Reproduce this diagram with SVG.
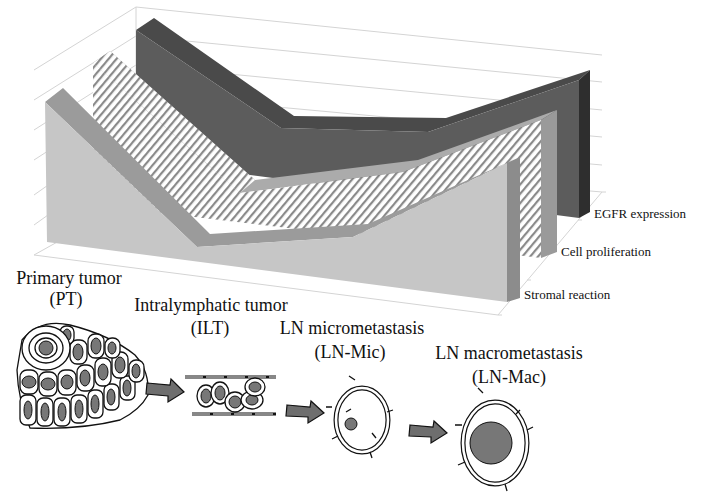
<svg xmlns="http://www.w3.org/2000/svg" width="709" height="493" viewBox="0 0 709 493">
<defs>
<pattern id="hatch" patternUnits="userSpaceOnUse" width="6" height="6" patternTransform="rotate(40)">
<rect width="6" height="6" fill="#fff"/><rect width="2.2" height="6" fill="#8a8a8a"/>
</pattern>
<style>
.grid{stroke:#d4d4d4;stroke-width:1;fill:none}
.lbl{font-family:"Liberation Serif",serif;font-size:13px;fill:#111}
.big{font-family:"Liberation Serif",serif;font-size:18px;fill:#111;text-anchor:middle}
.cell{fill:#fff;stroke:#111;stroke-width:1.3}
.nuc{fill:#777;stroke:#111;stroke-width:1}
.arrow{fill:#6e6e6e;stroke:#111;stroke-width:1.2}
.ringo{fill:none;stroke:#111;stroke-width:5}
.ringi{fill:none;stroke:#fff;stroke-width:2.6}
.spk{fill:none;stroke:#111;stroke-width:1.3}
</style>
</defs>
<g id="grid">
<path class="grid" d="M136 7 L602 55 M136 36 L602 82 M136 65 L602 110 M136 94 L602 137 M136 123 L602 165 M136 152 L602 192"/>
<path class="grid" d="M136 7 L136 198 M136 7 L34 70 M136 36 L34 100 M136 65 L34 130 M136 94 L34 160 M136 123 L34 195 M136 152 L34 225 M136 198 L34 255"/>
<path class="grid" d="M34 255 L498 315 L602 192"/>
<path class="grid" d="M498 315 l4 0 M527 280 l4 0 M550 250 l4 0 M578 220 l4 0 M602 192 l4 0"/>
</g>
<g id="egfr">
<polygon points="136,30 154,18 294,116 446,118 590,70 579,80 428,132 281,128" fill="#4a4a4a"/>
<polygon points="136,30 281,128 428,132 579,80 579,218 136,160" fill="#5c5c5c"/>
<polygon points="579,80 590,70 590,212 579,218" fill="#2e2e2e"/>
</g>
<g id="proliferation">
<polygon points="93,63 110,51 255,180 418,160 557,110 541,120 403,172 240,193" fill="#ababab"/>
<polygon points="93,63 110,51 255,180 240,193" fill="url(#hatch)"/>
<polygon points="93,63 240,193 403,172 541,120 541,258 93,205" fill="url(#hatch)"/>
<polygon points="541,120 557,110 557,252 541,258" fill="#9a9a9a"/>
</g>
<g id="stromal">
<polygon points="45,102 63,88 210,234 368,224 520,157 507,163 353,237 197,247" fill="#9b9b9b"/>
<polygon points="45,102 197,247 353,237 507,163 507,302 47,242" fill="#c6c6c6"/>
<polygon points="507,163 520,157 520,298 507,302" fill="#8c8c8c"/>
</g>
<g id="labels">
<text class="lbl" x="594" y="218">EGFR expression</text>
<text class="lbl" x="561" y="256">Cell proliferation</text>
<text class="lbl" x="524" y="299">Stromal reaction</text>
<text class="big" x="69" y="284">Primary tumor</text>
<text class="big" x="66" y="305">(PT)</text>
<text class="big" x="211" y="311">Intralymphatic tumor</text>
<text class="big" x="210" y="334">(ILT)</text>
<text class="big" x="352" y="334">LN micrometastasis</text>
<text class="big" x="350" y="358">(LN-Mic)</text>
<text class="big" x="509" y="359">LN macrometastasis</text>
<text class="big" x="509" y="383">(LN-Mac)</text>
</g>
<g id="pt">
<path class="cell" d="M22 340 Q40 318 70 325 Q110 335 135 355 Q150 372 148 395 Q140 410 120 420 Q80 430 30 428 Q18 400 17 370 Z"/>
<g>
<rect class="cell" x="20" y="395" width="16" height="30" rx="6"/><ellipse class="nuc" cx="28" cy="410" rx="4" ry="9"/>
<rect class="cell" x="37" y="398" width="16" height="28" rx="6"/><ellipse class="nuc" cx="45" cy="412" rx="4" ry="9"/>
<rect class="cell" x="54" y="398" width="16" height="28" rx="6"/><ellipse class="nuc" cx="62" cy="412" rx="4" ry="9"/>
<rect class="cell" x="71" y="395" width="16" height="28" rx="6"/><ellipse class="nuc" cx="79" cy="409" rx="4" ry="9"/>
<rect class="cell" x="88" y="390" width="15" height="28" rx="6"/><ellipse class="nuc" cx="95" cy="404" rx="4" ry="9"/>
<rect class="cell" x="104" y="384" width="15" height="26" rx="6"/><ellipse class="nuc" cx="111" cy="397" rx="4" ry="8"/>
<rect class="cell" x="120" y="376" width="15" height="24" rx="6"/><ellipse class="nuc" cx="127" cy="388" rx="4" ry="8"/>
<rect class="cell" x="20" y="370" width="18" height="24" rx="7"/><ellipse class="nuc" cx="29" cy="382" rx="7" ry="6"/>
<rect class="cell" x="39" y="372" width="18" height="24" rx="7"/><ellipse class="nuc" cx="48" cy="384" rx="7" ry="6"/>
<rect class="cell" x="58" y="370" width="18" height="25" rx="7"/><ellipse class="nuc" cx="67" cy="382" rx="6" ry="7"/>
<rect class="cell" x="77" y="365" width="17" height="26" rx="7"/><ellipse class="nuc" cx="85" cy="378" rx="5" ry="8"/>
<rect class="cell" x="95" y="358" width="16" height="28" rx="7"/><ellipse class="nuc" cx="103" cy="372" rx="5" ry="8"/>
<rect class="cell" x="112" y="352" width="16" height="26" rx="7"/><ellipse class="nuc" cx="120" cy="365" rx="5" ry="8"/>
<rect class="cell" x="129" y="360" width="15" height="22" rx="7"/><ellipse class="nuc" cx="136" cy="371" rx="4" ry="7"/>
<rect class="cell" x="70" y="340" width="17" height="24" rx="7"/><ellipse class="nuc" cx="78" cy="352" rx="5" ry="8"/>
<rect class="cell" x="88" y="334" width="16" height="24" rx="7"/><ellipse class="nuc" cx="96" cy="346" rx="5" ry="8"/>
<rect class="cell" x="105" y="338" width="15" height="20" rx="7"/><ellipse class="nuc" cx="112" cy="348" rx="4" ry="6"/>
<rect class="cell" x="60" y="326" width="14" height="18" rx="6"/><ellipse class="nuc" cx="67" cy="335" rx="4" ry="6"/>
</g>
<ellipse class="cell" cx="46" cy="348" rx="24" ry="22"/>
<ellipse class="cell" cx="46" cy="348" rx="17" ry="15"/>
<ellipse class="cell" cx="46" cy="348" rx="11" ry="10"/>
<circle class="nuc" cx="46" cy="348" r="7" fill="#999"/>
</g>
<g id="arrows">
<polygon class="arrow" points="147,383 170,385 171,379 184,392 168,402 168,396 146,394"/>
<polygon class="arrow" points="287,405 310,407 311,401 324,413 308,423 308,417 286,416"/>
<polygon class="arrow" points="410,425 433,427 434,421 447,433 431,443 431,437 409,436"/>
</g>
<g id="ilt">
<path d="M185 377 L276 377 M192 414 L276 414" stroke="#111" stroke-width="3"/>
<path d="M185 377 L276 377 M192 414 L276 414" stroke="#fff" stroke-width="1" stroke-dasharray="18 3"/>
<ellipse class="cell" cx="206" cy="396" rx="9" ry="11"/><ellipse class="nuc" cx="206" cy="396" rx="5" ry="7"/>
<ellipse class="cell" cx="220" cy="393" rx="9" ry="11"/><ellipse class="nuc" cx="220" cy="393" rx="5" ry="7"/>
<ellipse class="cell" cx="235" cy="402" rx="10" ry="10"/><ellipse class="nuc" cx="235" cy="402" rx="6" ry="6"/>
<ellipse class="cell" cx="252" cy="400" rx="11" ry="9"/><ellipse class="nuc" cx="252" cy="400" rx="6" ry="5"/>
<ellipse class="cell" cx="255" cy="387" rx="10" ry="9"/><ellipse class="nuc" cx="255" cy="387" rx="6" ry="5"/>
</g>
<g id="lnmic">
<ellipse class="ringo" cx="362" cy="420" rx="26" ry="32"/>
<ellipse class="ringi" cx="362" cy="420" rx="26" ry="32"/>
<circle class="nuc" cx="351" cy="424" r="6"/>
<path class="spk" d="M355 380 l-6 -4 M387 412 l6 -2 M332 407 l-6 0 M338 436 l-6 3 M370 452 l2 6 M346 412 l5 -3 M376 438 l-4 -5"/>
</g>
<g id="lnmac">
<ellipse class="ringo" cx="495" cy="443" rx="32" ry="41"/>
<ellipse class="ringi" cx="495" cy="443" rx="32" ry="41"/>
<circle cx="491" cy="443" r="21" fill="#777" stroke="#111" stroke-width="1"/>
<path class="spk" d="M483 393 l-5 -5 M527 430 l6 -3 M462 425 l-7 0 M465 462 l-7 3 M505 484 l2 7 M520 410 l-4 4"/>
</g>
</svg>
